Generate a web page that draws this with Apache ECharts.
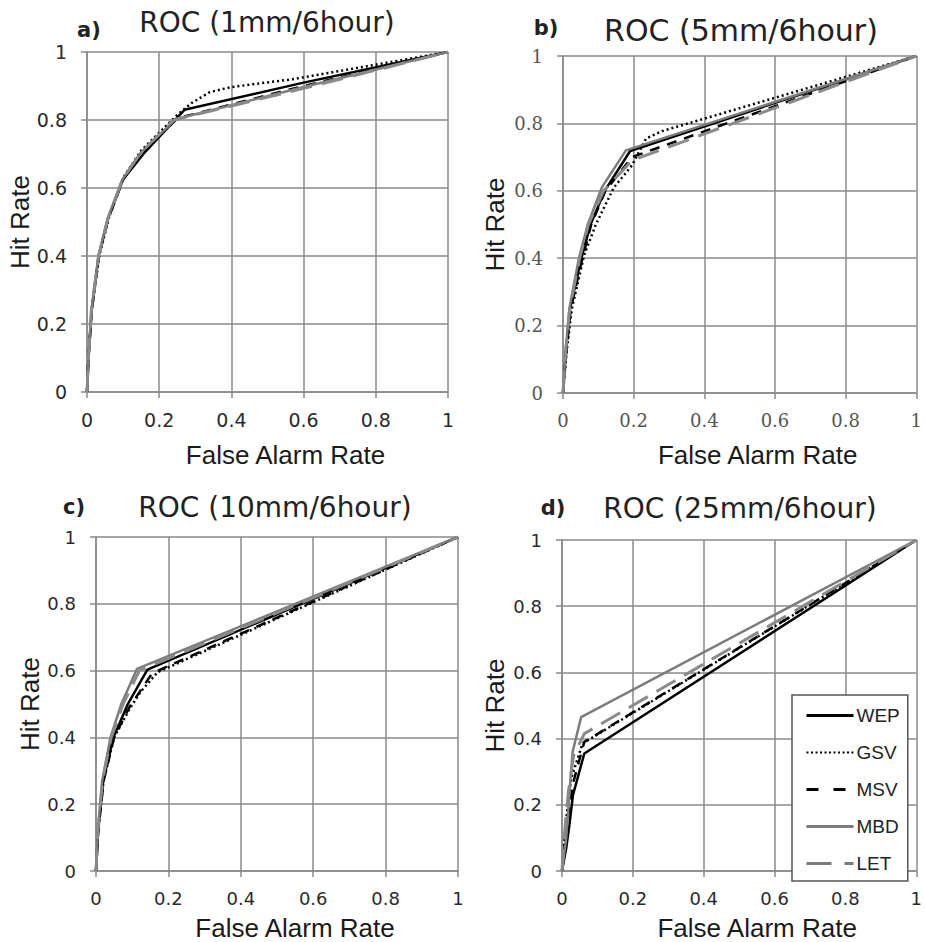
<!DOCTYPE html>
<html>
<head>
<meta charset="utf-8">
<script src="https://cdn.jsdelivr.net/npm/echarts@6/dist/echarts.min.js"></script>
<style>html,body{margin:0;padding:0;background:#fff}#c{width:925px;height:942px}</style>
</head>
<body>
<div id="c"></div>
<script>
// ---- data ----
const seriesNames = ['WEP', 'GSV', 'MSV', 'MBD', 'LET'];
const panelTitles = ['ROC (1mm/6hour)', 'ROC (5mm/6hour)', 'ROC (10mm/6hour)', 'ROC (25mm/6hour)'];
const panelLabels = ['a)', 'b)', 'c)', 'd)'];
const xAxisName = 'False Alarm Rate';
const yAxisName = 'Hit Rate';
const axisMin = 0, axisMax = 1, axisStep = 0.2;

// panel a: 1mm/6hour  [false alarm rate, hit rate]
const a_WEP = [[0,0],[0.004,0.1],[0.013,0.24],[0.032,0.4],[0.058,0.51],[0.1,0.625],[0.16,0.705],[0.27,0.83],[0.6,0.91],[1,1]];
const a_GSV = [[0,0],[0.004,0.1],[0.013,0.24],[0.034,0.4],[0.06,0.51],[0.1,0.63],[0.15,0.71],[0.25,0.815],[0.29,0.85],[0.34,0.882],[0.4,0.897],[0.57,0.92],[1,1]];
const a_MSV = [[0,0],[0.004,0.1],[0.013,0.24],[0.033,0.4],[0.059,0.51],[0.1,0.625],[0.15,0.7],[0.25,0.805],[0.6,0.9],[1,1]];
const a_MBD = [[0,0],[0.004,0.1],[0.012,0.24],[0.032,0.4],[0.057,0.51],[0.098,0.625],[0.15,0.705],[0.245,0.802],[0.6,0.897],[1,1]];
const a_LET = [[0,0],[0.004,0.1],[0.012,0.24],[0.032,0.4],[0.058,0.51],[0.098,0.625],[0.15,0.705],[0.24,0.8],[0.6,0.893],[1,1]];

// panel b: 5mm/6hour
const b_WEP = [[0,0],[0.008,0.12],[0.02,0.25],[0.052,0.4],[0.078,0.5],[0.118,0.6],[0.19,0.718],[1,1]];
const b_GSV = [[0,0],[0.01,0.12],[0.025,0.25],[0.06,0.41],[0.093,0.5],[0.144,0.61],[0.195,0.675],[0.235,0.755],[0.28,0.777],[1,1]];
const b_MSV = [[0,0],[0.009,0.12],[0.022,0.25],[0.055,0.4],[0.08,0.5],[0.12,0.6],[0.195,0.7],[1,1]];
const b_MBD = [[0,0],[0.007,0.12],[0.018,0.25],[0.045,0.4],[0.07,0.5],[0.11,0.61],[0.178,0.72],[1,1]];
const b_LET = [[0,0],[0.007,0.12],[0.019,0.25],[0.047,0.4],[0.072,0.5],[0.115,0.6],[0.195,0.69],[1,1]];

// panel c: 10mm/6hour
const c_WEP = [[0,0],[0.006,0.12],[0.02,0.27],[0.048,0.4],[0.088,0.5],[0.142,0.603],[1,1]];
const c_GSV = [[0,0],[0.006,0.12],[0.021,0.27],[0.05,0.4],[0.09,0.48],[0.122,0.535],[0.17,0.595],[1,1]];
const c_MSV = [[0,0],[0.006,0.12],[0.021,0.27],[0.05,0.4],[0.092,0.49],[0.155,0.592],[1,1]];
const c_MBD = [[0,0],[0.005,0.12],[0.017,0.27],[0.04,0.4],[0.07,0.5],[0.113,0.605],[1,1]];
const c_LET = [[0,0],[0.005,0.12],[0.018,0.27],[0.042,0.4],[0.075,0.5],[0.12,0.6],[1,1]];

// panel d: 25mm/6hour
const d_WEP = [[0,0],[0.012,0.07],[0.021,0.14],[0.031,0.23],[0.063,0.355],[1,1]];
const d_GSV = [[0,0],[0.006,0.08],[0.012,0.16],[0.026,0.28],[0.058,0.385],[1,1]];
const d_MSV = [[0,0],[0.007,0.07],[0.014,0.14],[0.03,0.26],[0.045,0.32],[0.063,0.39],[1,1]];
const d_MBD = [[0,0],[0.012,0.1],[0.022,0.25],[0.03,0.36],[0.054,0.465],[1,1]];
const d_LET = [[0,0],[0.006,0.1],[0.018,0.24],[0.033,0.35],[0.063,0.415],[1,1]];

const panelData = [
  [a_WEP, a_GSV, a_MSV, a_MBD, a_LET],
  [b_WEP, b_GSV, b_MSV, b_MBD, b_LET],
  [c_WEP, c_GSV, c_MSV, c_MBD, c_LET],
  [d_WEP, d_GSV, d_MSV, d_MBD, d_LET]
];

// ---- styles / layout ----
const lineStyles = {
  WEP: { color: '#000000', width: 2.5, type: 'solid' },
  GSV: { color: '#000000', width: 2.5, type: [2, 3] },
  MSV: { color: '#000000', width: 2.5, type: [10, 8] },
  MBD: { color: '#7c7c7c', width: 2.5, type: 'solid' },
  LET: { color: '#8a8a8a', width: 3, type: [22, 10] }
};
const legendLineStyles = {
  WEP: { color: '#000000', width: 3, type: 'solid' },
  GSV: { color: '#000000', width: 2, type: [2, 2.5] },
  MSV: { color: '#000000', width: 3, type: [12, 15] },
  MBD: { color: '#7c7c7c', width: 3, type: 'solid' },
  LET: { color: '#7c7c7c', width: 3, type: [25, 13] }
};
const grids = [
  { left: 87, top: 52, width: 361, height: 340 },
  { left: 563, top: 56, width: 359, height: 337 },
  { left: 96, top: 537, width: 362, height: 336 },
  { left: 562, top: 540, width: 360, height: 333 }
];
const tickFonts = [
  { fontFamily: 'DejaVu Sans', fontSize: 19, color: '#2a2a2a' },
  { fontFamily: 'DejaVu Serif', fontSize: 18, color: '#555555' },
  { fontFamily: 'DejaVu Sans', fontSize: 18, color: '#2a2a2a' },
  { fontFamily: 'DejaVu Sans', fontSize: 18, color: '#2a2a2a' }
];
const xNameGaps = [50, 49, 44, 44];
const yNameGaps = [50, 55, 50, 54];
const titlePos = [[267, 22, 28], [741, 30, 30], [275, 507, 28], [740, 508, 28]];
const labelPos = [[89, 30], [546, 28], [74, 507], [553, 508]];
const gridColor = '#8a8a8a';

const xAxes = [], yAxes = [], series = [], graphics = [];
for (let p = 0; p < 4; p++) {
  const common = {
    gridIndex: p, type: 'value', min: axisMin, max: axisMax, interval: axisStep,
    axisLine: { show: true, lineStyle: { color: gridColor, width: 1.5 } },
    axisTick: { show: true, length: 6, lineStyle: { color: gridColor, width: 1.5 } },
    splitLine: { show: true, lineStyle: { color: gridColor, width: 1.5 } },
    nameLocation: 'middle',
    nameTextStyle: { fontFamily: 'Liberation Sans', fontSize: 26, color: '#1a1a1a' }
  };
  xAxes.push(Object.assign({}, common, {
    name: xAxisName, nameGap: xNameGaps[p],
    nameTextStyle: Object.assign({}, common.nameTextStyle, { padding: [0, 0, 0, 36] }),
    axisLabel: Object.assign({ margin: 18 }, tickFonts[p])
  }));
  yAxes.push(Object.assign({}, common, {
    name: yAxisName, nameGap: yNameGaps[p], nameRotate: 90,
    axisLabel: Object.assign({ margin: 20 }, tickFonts[p])
  }));
  seriesNames.forEach((nm, i) => {
    series.push({
      name: nm, type: 'line', xAxisIndex: p, yAxisIndex: p,
      data: panelData[p][i], symbol: 'none', showSymbol: false,
      lineStyle: lineStyles[nm], itemStyle: { color: lineStyles[nm].color },
      animation: false, z: 3 + i
    });
  });
  graphics.push({
    type: 'text', x: titlePos[p][0], y: titlePos[p][1],
    style: { text: panelTitles[p], font: titlePos[p][2] + 'px "DejaVu Sans"', fill: '#222', textAlign: 'center', textVerticalAlign: 'middle' }
  });
  graphics.push({
    type: 'text', x: labelPos[p][0], y: labelPos[p][1],
    style: { text: panelLabels[p], font: 'bold 21px "DejaVu Sans"', fill: '#222', textAlign: 'center', textVerticalAlign: 'middle' }
  });
}

const chart = echarts.init(document.getElementById('c'), null, { renderer: 'svg' });
chart.setOption({
  backgroundColor: '#ffffff',
  animation: false,
  grid: grids,
  xAxis: xAxes,
  yAxis: yAxes,
  series: series,
  graphic: graphics,
  legend: {
    orient: 'vertical', left: 792, top: 695,
    padding: [11, 8, 8, 13],
    itemWidth: 47, itemHeight: 14, itemGap: 18,
    backgroundColor: '#ffffff', borderColor: '#555', borderWidth: 1.5, borderRadius: 0,
    textStyle: { fontFamily: 'Liberation Sans', fontSize: 19, color: '#222', padding: [0, 0, 0, -2] },
    data: seriesNames.map(nm => ({
      name: nm,
      lineStyle: legendLineStyles[nm],
      itemStyle: { color: 'rgba(0,0,0,0)', borderWidth: 0, opacity: 0 }
    }))
  }
});
</script>
</body>
</html>
